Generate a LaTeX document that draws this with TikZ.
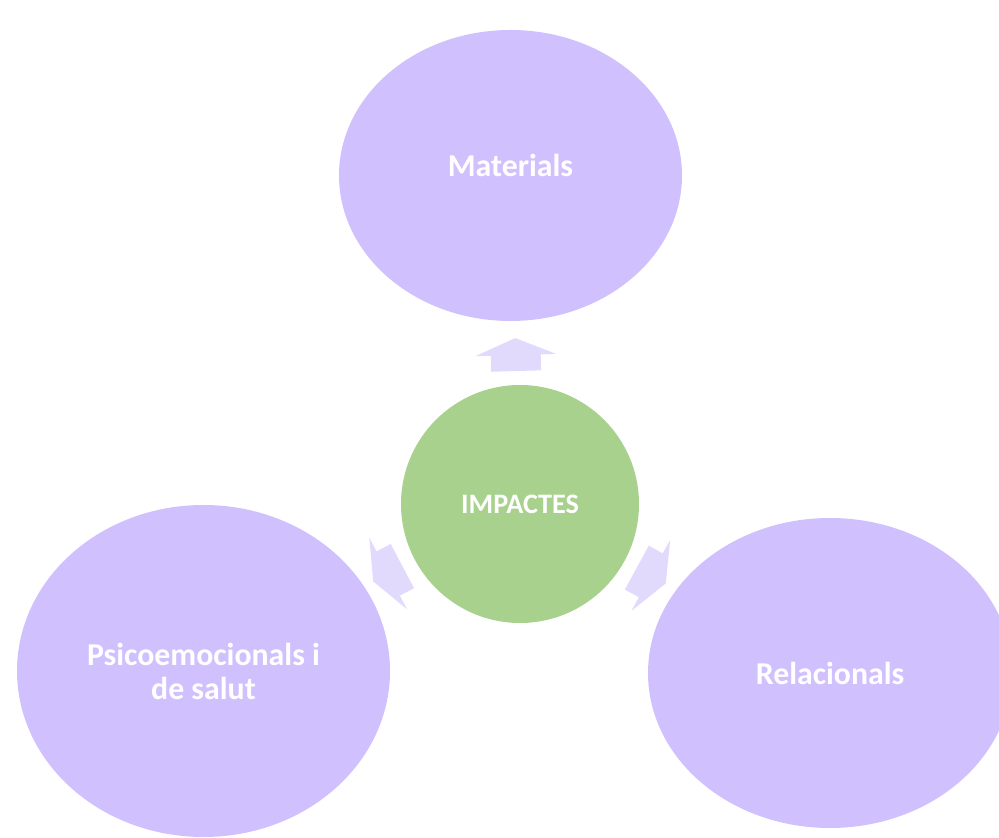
\documentclass[tikz,border=0pt]{standalone}
\usepackage{fontspec}
\setmainfont{Carlito}
\usetikzlibrary{shapes.geometric,calc}

\definecolor{lavender}{HTML}{D1C0FE}
\definecolor{palelavender}{HTML}{E1DAFD}
\definecolor{leafgreen}{HTML}{A9D18E}

\tikzset{
  bubble/.style={ellipse,fill=lavender,inner sep=0pt,text=white,align=center,
    font=\fontsize{15.9}{17}\selectfont\bfseries},
  hub/.style={circle,fill=leafgreen,inner sep=0pt,text=white,
    font=\fontsize{14.1}{17}\selectfont\bfseries},
  spoke/.pic={
    \fill[palelavender] (133,-25) -- (149,-25) -- (149,-40.5) -- (166,0)
      -- (149,40.5) -- (149,25) -- (133,25) -- cycle;
  }
}

\begin{document}
\begin{tikzpicture}[x=0.5pt,y=0.5pt]
  \useasboundingbox (0,0) rectangle (999,838);
  \node[hub,minimum size=119pt] (impactes) at (520,334) {IMPACTES};
  \node[bubble,minimum width=171.5pt,minimum height=145.5pt] (materials) at (510.5,662.5) {\raisebox{10pt}{Materials}};
  \node[bubble,minimum width=186.5pt,minimum height=166pt] (psico) at (203.5,167) {Psicoemocionals i\\de salut};
  \node[bubble,minimum width=182pt,minimum height=155pt] (relacionals) at (830,165) {Relacionals};
  % block arrows from the hub towards each bubble
  \foreach \target in {materials,psico,relacionals}
    \path let \p1=(impactes.center), \p2=(\target.center),
      \n1={atan2(\y2-\y1,\x2-\x1)} in
      pic[rotate=\n1] at (impactes.center) {spoke};
\end{tikzpicture}
\end{document}
